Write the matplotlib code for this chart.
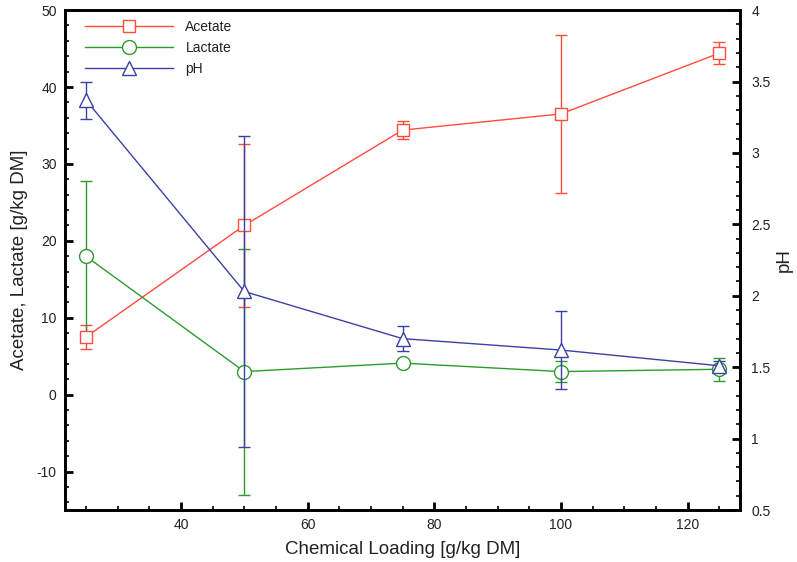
import numpy as np
import matplotlib.pyplot as plt
from matplotlib.ticker import MultipleLocator
from matplotlib.lines import Line2D

plt.rcParams['font.family'] = ['Liberation Sans', 'DejaVu Sans']
plt.rcParams['axes.unicode_minus'] = False

loading = [25, 50, 75, 100, 125]

acetate = [7.5, 22.0, 34.4, 36.5, 44.4]
acetate_err = [1.5, 10.6, 1.2, 10.3, 1.4]

lactate = [18.0, 3.0, 4.1, 3.0, 3.3]
lactate_err = [9.8, 16.0, 0.3, 1.4, 1.5]

ph = [3.37, 2.03, 1.70, 1.62, 1.51]
ph_err = [0.13, 1.09, 0.09, 0.27, 0.03]

red = '#ff4b3e'
green = '#2e9a2e'
blue = '#3b40a4'
txt = '#222222'

fig = plt.figure(figsize=(7.97, 5.62), dpi=100)
ax1 = fig.add_axes([0.0816, 0.0925, 0.847, 0.8895])
ax2 = ax1.twinx()

ax1.errorbar(loading, acetate, yerr=acetate_err, color=red, marker='s',
             markersize=9, markerfacecolor='white', markeredgecolor=red,
             capsize=4, linewidth=1, elinewidth=1)
ax1.errorbar(loading, lactate, yerr=lactate_err, color=green, marker='o',
             markersize=10, markerfacecolor='white', markeredgecolor=green,
             capsize=4, linewidth=1, elinewidth=1)
ax2.errorbar(loading, ph, yerr=ph_err, color=blue, marker='^',
             markersize=10, markerfacecolor='white', markeredgecolor=blue,
             capsize=4, linewidth=1, elinewidth=1)

ax1.set_xlim(21.7, 128.3)
ax1.set_ylim(-15, 50)
ax2.set_ylim(0.5, 4)

ax1.xaxis.set_major_locator(MultipleLocator(20))
ax1.xaxis.set_minor_locator(MultipleLocator(5))
ax1.yaxis.set_major_locator(MultipleLocator(10))
ax1.yaxis.set_minor_locator(MultipleLocator(2))
ax2.yaxis.set_minor_locator(MultipleLocator(0.1))
ax2.set_yticks([0.5, 1, 1.5, 2, 2.5, 3, 3.5, 4])
ax2.set_yticklabels(['0.5', '1', '1.5', '2', '2.5', '3', '3.5', '4'])

for ax in (ax1, ax2):
    ax.tick_params(which='both', direction='in', labelsize=10, width=1.2,
                   labelcolor=txt, pad=6)
    ax.tick_params(which='major', length=6, width=2)
    ax.tick_params(which='minor', length=3)
    for s in ax.spines.values():
        s.set_linewidth(2)
ax1.tick_params(axis='y', which='both', right=False)
ax1.tick_params(axis='x', which='both', top=False)
ax2.tick_params(axis='y', pad=8)

ax1.set_xlabel('Chemical Loading [g/kg DM]', fontsize=13.5, color=txt, labelpad=6)
ax1.set_ylabel('Acetate, Lactate [g/kg DM]', fontsize=13.5, color=txt, labelpad=6)
ax2.set_ylabel('pH', fontsize=13.5, color=txt, labelpad=4)

handles = [
    Line2D([], [], color=red, marker='s', markersize=9, markerfacecolor='white', linewidth=1),
    Line2D([], [], color=green, marker='o', markersize=10, markerfacecolor='white', linewidth=1),
    Line2D([], [], color=blue, marker='^', markersize=10, markerfacecolor='white', linewidth=1),
]
ax1.legend(handles, ['Acetate', 'Lactate', 'pH'], loc='upper left',
           frameon=False, fontsize=10, handlelength=6.3, handletextpad=0.9,
           labelspacing=0.5, borderaxespad=0.0, bbox_to_anchor=(0.022, 0.992),
           labelcolor=txt)

fig.savefig('out.png', dpi=100)
